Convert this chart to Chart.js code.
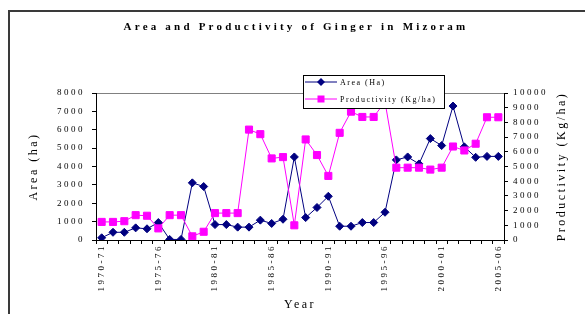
<!DOCTYPE html>
<html>
<head>
<meta charset="utf-8">
<script src="https://cdn.jsdelivr.net/npm/chart.js@4.4.1/dist/chart.umd.min.js"></script>
<style>
  html, body { margin: 0; padding: 0; background: #fff; overflow: hidden; }
  #wrap { position: relative; width: 585px; height: 314px; }
  #frame { position: absolute; left: 8px; top: 10px; width: 700px; height: 400px;
           border-left: 2px solid #3a3a3a; border-top: 2px solid #3a3a3a; pointer-events: none; }
</style>
</head>
<body>
<div id="wrap">
  <canvas id="grafico" width="585" height="314"></canvas>
  <div id="frame"></div>
</div>
<script>
// dados
const anos = [
  "1970-71","1971-72","1972-73","1973-74","1974-75","1975-76","1976-77","1977-78","1978-79","1979-80",
  "1980-81","1981-82","1982-83","1983-84","1984-85","1985-86","1986-87","1987-88","1988-89","1989-90",
  "1990-91","1991-92","1992-93","1993-94","1994-95","1995-96","1996-97","1997-98","1998-99","1999-00",
  "2000-01","2001-02","2002-03","2003-04","2004-05","2005-06"
];
const area = [120, 420, 420, 660, 610, 950, 30, 30, 3110, 2910,
              840, 840, 700, 700, 1080, 900, 1130, 4520, 1220, 1770,
              2380, 750, 750, 950, 950, 1510, 4360, 4520, 4140, 5520,
              5140, 7290, 5070, 4500, 4550, 4550];
const produtividade = [1230, 1230, 1280, 1690, 1650, 790, 1690, 1690, 250, 560,
                       1830, 1830, 1830, 7510, 7200, 5550, 5640, 1000, 6840, 5780,
                       4360, 7290, 8730, 8370, 8370, 9400, 4920, 4920, 4920, 4790,
                       4920, 6360, 6090, 6550, 8350, 8350];
const areaMax = 8000;
const prodMax = 10000;
const passo = 1000;

const FONTE = "'Liberation Serif', 'DejaVu Serif', serif";
const AZUL = '#000080';
const ROSA = '#FF00FF';

// textos extras: título, título do eixo direito e legenda
const textosPlugin = {
  id: 'textos',
  beforeDraw(chart) {
    chart.ctx.letterSpacing = '2.5px';
  },
  afterDraw(chart) {
    const ctx = chart.ctx;
    const ca = chart.chartArea;
    ctx.save();
    ctx.fillStyle = '#000';

    // título
    ctx.letterSpacing = '3.2px';
    ctx.font = `bold 11px ${FONTE}`;
    ctx.textAlign = 'center';
    ctx.textBaseline = 'middle';
    ctx.fillText('Area and Productivity of Ginger in Mizoram', 296, 27);

    // título do eixo direito (lido de baixo para cima)
    ctx.letterSpacing = '2.5px';
    ctx.font = `12px ${FONTE}`;
    ctx.save();
    ctx.translate(ca.right + 58, (ca.top + ca.bottom) / 2);
    ctx.rotate(-Math.PI / 2);
    ctx.fillText('Productivity (Kg/ha)', 0, 0);
    ctx.restore();

    // legenda
    const lx = ca.left + 207, ly = ca.top - 18, lw = 141, lh = 33;
    ctx.fillStyle = '#fff';
    ctx.fillRect(lx, ly, lw, lh);
    ctx.strokeStyle = '#000';
    ctx.lineWidth = 1;
    ctx.strokeRect(lx + 0.5, ly + 0.5, lw, lh);

    const itens = [
      { txt: 'Area (Ha)', cor: AZUL, forma: 'diamante', y: ly + 7 },
      { txt: 'Productivity (Kg/ha)', cor: ROSA, forma: 'quadrado', y: ly + 24 }
    ];
    ctx.font = `8px ${FONTE}`;
    ctx.letterSpacing = '1.5px';
    ctx.textAlign = 'left';
    itens.forEach(it => {
      ctx.strokeStyle = it.cor;
      ctx.fillStyle = it.cor;
      ctx.beginPath();
      ctx.moveTo(lx + 2, it.y);
      ctx.lineTo(lx + 34, it.y);
      ctx.stroke();
      const mx = lx + 18;
      ctx.beginPath();
      if (it.forma === 'diamante') {
        ctx.moveTo(mx, it.y - 4);
        ctx.lineTo(mx + 4, it.y);
        ctx.lineTo(mx, it.y + 4);
        ctx.lineTo(mx - 4, it.y);
        ctx.closePath();
      } else {
        ctx.rect(mx - 3.5, it.y - 3.5, 7, 7);
      }
      ctx.fill();
      ctx.fillStyle = '#000';
      ctx.fillText(it.txt, lx + 37, it.y + 0.5);
    });
    ctx.restore();
  }
};

const ctx = document.getElementById('grafico').getContext('2d');
new Chart(ctx, {
  type: 'line',
  data: {
    labels: anos,
    datasets: [
      {
        label: 'Area (Ha)',
        data: area,
        yAxisID: 'y',
        borderColor: AZUL,
        backgroundColor: AZUL,
        borderWidth: 1,
        pointStyle: 'rectRot',
        pointRadius: 4,
        pointBorderWidth: 1,
        tension: 0,
        order: 1
      },
      {
        label: 'Productivity (Kg/ha)',
        data: produtividade,
        yAxisID: 'y1',
        borderColor: ROSA,
        backgroundColor: ROSA,
        borderWidth: 1,
        pointStyle: 'rect',
        pointRadius: 5,
        pointBorderWidth: 1,
        tension: 0,
        order: 0
      }
    ]
  },
  options: {
    responsive: false,
    animation: false,
    devicePixelRatio: 1,
    layout: { padding: { top: 93, left: 0, right: 0, bottom: 0 } },
    plugins: {
      legend: { display: false },
      title: { display: false },
      tooltip: { enabled: false }
    },
    scales: {
      x: {
        offset: true,
        afterFit: s => { s.height = 74; },
        border: { color: '#000', width: 1 },
        grid: { offset: true, drawOnChartArea: false, tickLength: 4, color: '#000' },
        ticks: {
          autoSkip: false,
          minRotation: 90,
          maxRotation: 90,
          padding: 0,
          color: '#000',
          font: { family: FONTE, size: 9 },
          callback: function (v, i) { return i % 5 === 0 ? this.getLabelForValue(v) : ''; }
        },
        title: {
          display: true,
          text: 'Year',
          color: '#000',
          font: { family: FONTE, size: 12 },
          padding: { top: 0, bottom: 2 }
        }
      },
      y: {
        position: 'left',
        min: 0,
        max: areaMax,
        afterFit: s => { s.width = 96; },
        border: { color: '#000', width: 1 },
        grid: {
          color: c => (c.tick && c.tick.value === areaMax) ? '#808080' : 'rgba(0,0,0,0)',
          tickColor: '#000',
          tickLength: 4
        },
        ticks: {
          stepSize: passo,
          padding: 7,
          color: '#000',
          font: { family: FONTE, size: 9 },
          callback: v => String(v)
        },
        title: {
          display: true,
          text: 'Area (ha)',
          color: '#000',
          font: { family: FONTE, size: 12 },
          padding: { top: 27, bottom: 0 }
        }
      },
      y1: {
        position: 'right',
        min: 0,
        max: prodMax,
        afterFit: s => { s.width = 81; },
        border: { color: '#000', width: 1 },
        grid: { drawOnChartArea: false, color: '#000', tickLength: 4 },
        ticks: {
          stepSize: passo,
          padding: 5,
          color: '#000',
          font: { family: FONTE, size: 9 },
          callback: v => String(v)
        }
      }
    }
  },
  plugins: [textosPlugin]
});
</script>
</body>
</html>
